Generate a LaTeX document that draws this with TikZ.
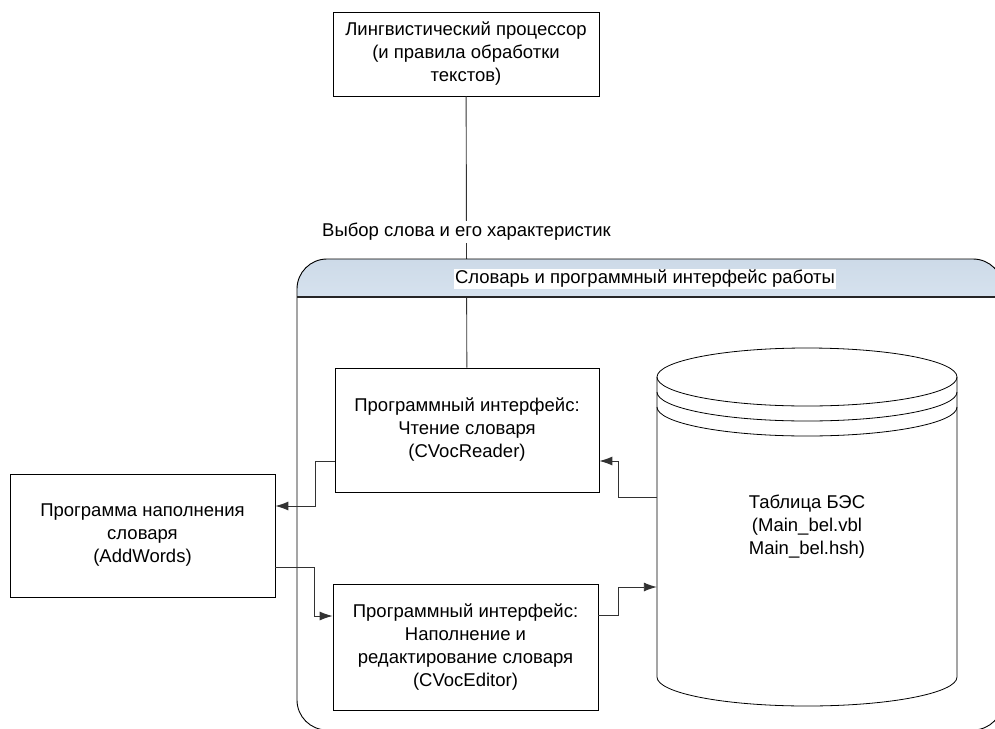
\documentclass[tikz,border=0pt]{standalone}
\usepackage{fontspec}
\setmainfont{Liberation Sans}
\usepackage{tikz}
\usetikzlibrary{positioning}
\usetikzlibrary{arrows.meta}

\definecolor{hdrtop}{RGB}{205,218,232}
\definecolor{hdrbot}{RGB}{214,226,238}
\definecolor{connc}{RGB}{50,50,50}

\begin{document}
\begin{tikzpicture}[x=1pt, y=-1pt, >={Latex[length=13pt, width=9pt]},
    every node/.style={font=\fontsize{18.5}{23}\selectfont, align=center},
    block/.style={draw=black, line width=0.8pt, inner sep=0pt},
    conn/.style={draw=connc, line width=0.9pt}]
\useasboundingbox (0,0) rectangle (995,728);
\clip (0,0) rectangle (995,728);

% boxes
\node[block, minimum width=266pt, minimum height=84pt] (ling) at (466,54)
    {Лингвистический процессор\\(и правила обработки\\текстов)};
\node[block, minimum width=264pt, minimum height=124pt] (reader) at (467,430)
    {Программный интерфейс:\\Чтение словаря\\(CVocReader)};
\node[block, minimum width=265pt, minimum height=126pt] (editor) at (465.5,647)
    {Программный интерфейс:\\Наполнение и\\редактирование словаря\\(CVocEditor)};
\node[block, minimum width=265pt, minimum height=123pt] (addw) at (142.5,535.5)
    {Программа наполнения\\словаря\\(AddWords)};

% link from the processor, drawn under the header
\draw[conn] (ling) -- (reader)
    node[pos=0.5, fill=white, inner sep=2pt] (choice) {Выбор слова и его характеристик};

% container with header
\fill[top color=hdrtop, bottom color=hdrbot] (297,297)
    {[rounded corners=30pt] -- (297,259) -- (1003,259)} -- (1003,297) -- cycle;
\draw[line width=0.9pt, rounded corners=30pt] (297,259) rectangle (1003,730);
\draw[line width=2pt, black!85] (297,297) -- (1003,297);
\node[fill=white, inner sep=1pt] (dict) at (645,279) {Словарь и программный интерфейс работы};

% table cylinder
\draw[line width=0.8pt] (657,377) -- (657,677) arc[start angle=180, end angle=360,
    x radius=150pt, y radius=29pt] -- (957,377);
\draw[line width=0.8pt] (807,377) ellipse[x radius=150pt, y radius=29pt];
\foreach \dy in {15,30}
    \draw[line width=0.8pt] (657,377+\dy) arc[start angle=180, end angle=360,
        x radius=150pt, y radius=29pt];
\node[minimum width=300pt, minimum height=300pt] (tbl) at (807,527)
    {Таблица БЭС\\(Main\_bel.vbl\\Main\_bel.hsh)};

% connectors
\draw[conn, ->] ([yshift=-31pt]reader.west) -- ++(-19,0) |- ([yshift=29.5pt]addw.east);
\draw[conn, ->] ([yshift=-31.5pt]addw.east) -- ++(39,0) |- ([yshift=31pt]editor.west);
\draw[conn, ->] ([yshift=30pt]tbl.west) -- ++(-38,0) |- ([yshift=-31pt]reader.east);
\draw[conn, ->] ([yshift=32pt]editor.east) -- ++(20,0) |- ([yshift=-60pt]tbl.west);
\end{tikzpicture}
\end{document}
